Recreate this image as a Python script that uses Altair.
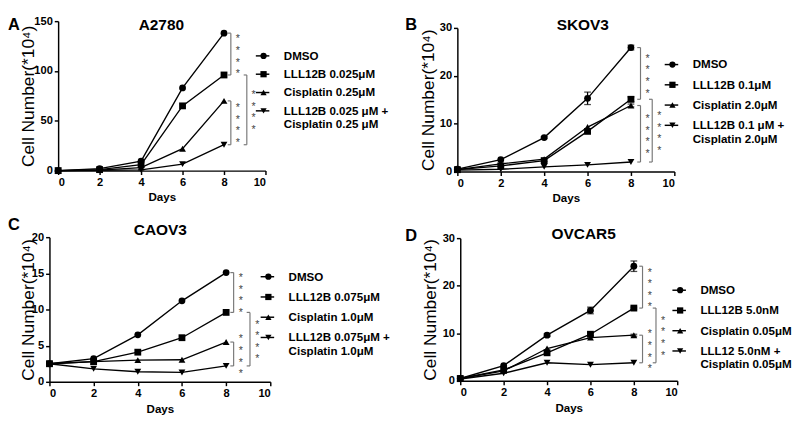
import altair as alt
import pandas as pd

# ---------------- data ----------------
days = [0, 2, 4, 6, 8]
x_ticks = [0, 2, 4, 6, 8, 10]

a_title = "A2780"
a_labels = ["DMSO", "LLL12B 0.025μM", "Cisplatin 0.25μM", "LLL12B 0.025 μM +|Cisplatin 0.25 μM"]
a_dmso = [0, 2, 9.5, 83, 138]
a_lll = [0, 1, 6, 65, 96]
a_cis = [0, 0.5, 3, 22, 70]
a_combo = [0, 0.3, 0.8, 6.5, 26]
a_err = [[0, 0, 0, 0, 0]] * 4
a_yticks = [0, 50, 100, 150]

b_title = "SKOV3"
b_labels = ["DMSO", "LLL12B 0.1μM", "Cisplatin 2.0μM", "LLL12B 0.1 μM +|Cisplatin 2.0μM"]
b_dmso = [0.5, 2.5, 7.1, 15.3, 25.9]
b_lll = [0.4, 1.2, 2.3, 8.4, 15.1]
b_cis = [0.4, 1.6, 2.6, 9.3, 13.8]
b_combo = [0.3, 0.5, 1.0, 1.4, 2.0]
b_err = [[0, 0, 0.2, 1.3, 0.5], [0, 0, 0, 0.3, 0.5], [0, 0, 0, 0, 0.3], [0, 0, 0, 0, 0]]
b_yticks = [0, 10, 20, 30]

c_title = "CAOV3"
c_labels = ["DMSO", "LLL12B 0.075μM", "Cisplatin 1.0μM", "LLL12B 0.075μM +|Cisplatin 1.0μM"]
c_dmso = [2.5, 3.2, 6.5, 11.2, 15.1]
c_lll = [2.5, 2.8, 4.1, 6.1, 9.6]
c_cis = [2.5, 2.8, 3.0, 3.05, 5.5]
c_combo = [2.5, 1.8, 1.4, 1.3, 2.2]
c_err = [[0, 0, 0, 0, 0]] * 4
c_yticks = [0, 5, 10, 15, 20]

d_title = "OVCAR5"
d_labels = ["DMSO", "LLL12B 5.0nM", "Cisplatin 0.05μM", "LLL12 5.0nM +|Cisplatin 0.05μM"]
d_dmso = [0.5, 3.2, 9.6, 14.8, 24.1]
d_lll = [0.5, 2.3, 5.9, 9.8, 15.3]
d_cis = [0.5, 2.1, 6.8, 9.1, 9.6]
d_combo = [0.4, 1.6, 3.8, 3.4, 3.8]
d_err = [[0, 0, 0.3, 0.7, 1.1], [0, 0, 0, 0.3, 0.2], [0, 0, 0, 0, 0.2], [0, 0, 0, 0, 0]]
d_yticks = [0, 10, 20, 30]

# significance marks: four stars per bracket
n_stars = 4
star_text = "*"

# ---------------- style ----------------
FONT = "Liberation Sans"
BRACKET = "#777777"
STAR = "#444444"
marker_shapes = ["circle", "square", "triangle-up", "triangle-down"]
STAR_GAP_PX = 12

LEG_COMMON = dict(labelFont=FONT, labelFontSize=12, labelFontWeight="bold", labelLimit=0,
                  padding=0, title=None, orient="none", direction="vertical")


def panel(title, letter, labels, series, errors, ymax, yticks, w, h,
          lx, ly, tx, ty, letx, lety, ytx, inner=8.35, outer=9.05, top=0, shift=0, rowpad=7):
    rows = []
    for lab, vals, errs in zip(labels, series, errors):
        for d, v, e in zip(days, vals, errs):
            rows.append({"day": d, "value": v, "lo": v - e, "hi": v + e, "err": e, "series": lab})
    df = pd.DataFrame(rows)

    xs = alt.Scale(domain=[0, 10], nice=False, zero=False, range=[-shift, w - shift])
    ys = alt.Scale(domain=[0, ymax], nice=False, range=[h, top])
    xaxis = alt.Axis(values=x_ticks, title="Days", format="d")
    yaxis = alt.Axis(values=yticks, title="Cell Number(*10⁴)", format="d", offset=shift,
                     titleX=ytx, titleY=(h + top) / 2, titleBaseline="middle", titleAngle=270,
                     titleAlign="center")

    def X(f):
        return alt.X(f, type="quantitative", scale=xs, axis=xaxis)

    def Y(f):
        return alt.Y(f, type="quantitative", scale=ys, axis=yaxis)

    d8 = [s[-1] for s in series]
    pairs = [(0, 1, inner), (1, 3, outer), (2, 3, inner)]
    br = pd.DataFrame([{"bx": bx, "y1": d8[a], "y2": d8[b]} for a, b, bx in pairs])
    ends = pd.DataFrame([
        {"tx": bx - 0.15, "bx": bx, "y": d8[k]}
        for a, b, bx in pairs for k in (a, b)
    ])
    gap = STAR_GAP_PX * ymax / (h - top)
    stars = pd.DataFrame([
        {"sx": bx + 0.33, "sy": (d8[a] + d8[b]) / 2 + (k - (n_stars - 1) / 2) * gap, "s": star_text}
        for a, b, bx in pairs for k in range(n_stars)
    ])

    base = alt.Chart(df)
    layers = []
    layers.append(alt.Chart(br).mark_rule(color=BRACKET, strokeWidth=1.2).encode(
        x=X("bx"), y=Y("y1"), y2="y2"))
    layers.append(alt.Chart(ends).mark_rule(color=BRACKET, strokeWidth=1.2).encode(
        x=X("tx"), x2="bx", y=Y("y")))
    layers.append(alt.Chart(stars).mark_text(fontSize=11, baseline="middle", align="center", dy=3,
                                             color=STAR, font=FONT).encode(
        x=X("sx"), y=Y("sy"), text="s:N"))
    # connecting lines; their colour legend draws the line part of the legend keys
    layers.append(base.mark_line(strokeWidth=1.4).encode(
        x=X("day"), y=Y("value"),
        color=alt.Color("series:N", scale=alt.Scale(domain=labels, range=["black"] * 4),
                        legend=alt.Legend(legendX=lx - 1, legendY=ly, symbolType="M-2,0 L2,0",
                                          symbolSize=49, symbolStrokeWidth=1.5, labelOffset=13,
                                          rowPadding=rowpad,
                                          labelExpr="indexof(datum.label, '|') >= 0 ? [' ', ' '] : ' '",
                                          **LEG_COMMON))))
    eb = df[df["err"] > 0]
    layers.append(alt.Chart(eb).mark_rule(color="black", strokeWidth=1.3).encode(
        x=X("day"), y=Y("lo"), y2="hi"))
    for f in ("lo", "hi"):
        layers.append(alt.Chart(eb).mark_tick(color="black", thickness=1.3, size=7, orient="horizontal").encode(
            x=X("day"), y=Y(f)))
    for lab, shp in zip(labels, marker_shapes):
        layers.append(alt.Chart(df[df["series"] == lab]).mark_point(
            filled=True, size=50, color="black", opacity=1, shape=shp).encode(x=X("day"), y=Y("value")))
    # marker part of the legend keys (+ labels)
    layers.append(base.mark_point(filled=True, size=50, color="black", opacity=0).encode(
        x=X("day"), y=Y("value"),
        shape=alt.Shape("series:N", scale=alt.Scale(domain=labels, range=marker_shapes),
                        legend=alt.Legend(legendX=lx, legendY=ly, symbolSize=42, symbolOpacity=1,
                                          symbolFillColor="black", symbolStrokeWidth=0,
                                          labelColor="black", labelOffset=15, rowPadding=rowpad,
                                          labelExpr="split(datum.label, '|')", **LEG_COMMON))))
    layers.append(alt.Chart(pd.DataFrame({"t": [title]})).mark_text(
        font=FONT, fontSize=16, fontWeight="bold", color="black", align="center", baseline="top").encode(
        text="t:N", x=alt.value(tx), y=alt.value(ty)))
    layers.append(alt.Chart(pd.DataFrame({"t": [letter]})).mark_text(
        font=FONT, fontSize=17, fontWeight="bold", color="black", align="left", baseline="top").encode(
        text="t:N", x=alt.value(letx), y=alt.value(lety)))

    return alt.layer(*layers).resolve_scale(color="independent", shape="independent").properties(
        width=w, height=h)


pA = panel(a_title, "A", a_labels, [a_dmso, a_lll, a_cis, a_combo], a_err, 150, a_yticks, 215, 155,
           lx=207, ly=30, tx=107, ty=-4, letx=-52, lety=-4, ytx=-31, inner=8.33, outer=9.1, rowpad=7)
pB = panel(b_title, "B", b_labels, [b_dmso, b_lll, b_cis, b_combo], b_err, 30, b_yticks, 225, 156,
           lx=217, ly=39, tx=130, ty=-4, letx=-54, lety=-4, ytx=-30, inner=8.44, outer=8.98, top=7,
           rowpad=9)
pC = panel(c_title, "C", c_labels, [c_dmso, c_lll, c_cis, c_combo], c_err, 20, c_yticks, 229, 150,
           lx=212, ly=35, tx=106, ty=-15, letx=-52, lety=-20, ytx=-22, inner=8.34, outer=9.08, shift=9,
           rowpad=9)
pD = panel(d_title, "D", d_labels, [d_dmso, d_lll, d_cis, d_combo], d_err, 30, d_yticks, 225, 149,
           lx=222, ly=49, tx=128, ty=-11, letx=-57, lety=-9, ytx=-31, inner=8.4, outer=9.02, top=1,
           rowpad=9)

chart = alt.concat(
    pA, pB, pC, pD, columns=2,
    spacing={"row": 13, "column": 15},
    align={"row": "all", "column": "none"},
).resolve_scale(color="independent", shape="independent").properties(
    padding=0, background="white"
).configure_view(stroke=None).configure_axis(
    domainColor="black", domainWidth=1.5, tickColor="black", tickWidth=1.5, tickSize=4,
    labelFont=FONT, labelFontSize=11.5, labelFontWeight="bold", labelColor="black", labelPadding=2,
    grid=False, titleFont=FONT, titleColor="black"
).configure_axisX(
    titleFontSize=12, titleFontWeight="bold", titlePadding=5
).configure_axisY(
    titleFontSize=18, titleFontWeight="normal", titlePadding=3
)

chart.save("out.html", embed_options={"renderer": "svg", "actions": False})
